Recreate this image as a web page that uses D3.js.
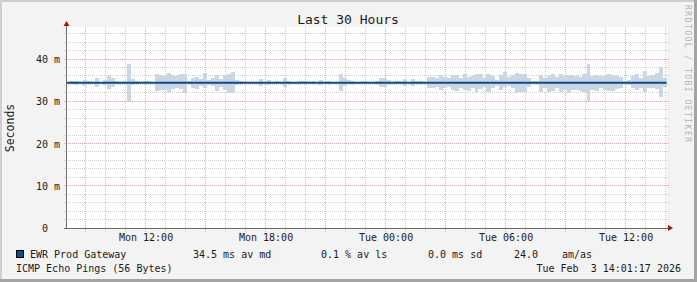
<!DOCTYPE html>
<html>
<head>
<meta charset="utf-8">
<script src="https://cdn.jsdelivr.net/npm/d3@7"></script>
<style>
  body { margin: 0; background: #fff; }
  svg text { font-family: "DejaVu Sans Mono", monospace; fill: #1a1a1a; white-space: pre; }
</style>
</head>
<body>
<div id="chart"></div>
<script>
// graph window: 30 hours ending at the stamp shown in the footer
var endTime = new Date(2026, 1, 3, 14, 1, 17);
var spanHours = 30;
var bucketMinutes = 12;

// smoke band per 12-minute bucket (ms), null = no spread
var smokeHi = [
  null,34.9,34.9,null,35.1,34.9,null,35.6,null,35.1,
  36.1,35.6,34.9,null,35.0,38.9,35.4,34.9,null,34.8,
  34.8,null,36.6,36.3,36.1,36.8,36.3,36.1,36.6,36.6,
  34.9,35.6,35.8,35.4,36.8,35.1,35.6,36.3,35.4,36.3,
  36.6,37.0,35.1,34.9,null,null,null,null,35.4,null,
  35.1,null,34.8,null,35.6,35.0,null,null,34.8,34.8,
  null,34.8,null,35.1,null,34.9,null,null,36.6,35.6,
  35.1,34.9,null,null,34.8,null,null,35.0,35.6,35.6,
  35.1,null,34.9,34.8,35.4,null,35.4,34.8,34.9,null,
  35.8,35.8,35.6,36.3,35.8,35.6,36.3,36.3,35.6,36.6,
  35.8,36.1,36.6,36.6,35.6,36.6,36.1,35.1,36.3,37.0,
  35.8,36.3,36.8,36.6,36.6,35.6,34.9,34.9,36.3,35.6,
  36.1,36.6,35.8,36.6,36.1,36.3,36.3,36.1,35.8,36.6,
  38.9,36.1,36.3,36.1,36.1,36.6,36.3,36.1,35.8,35.0,
  35.1,36.1,36.6,35.6,37.3,36.1,36.3,36.8,38.2,35.6
];
var smokeLo = [
  null,34.3,34.0,null,33.7,34.2,null,33.5,null,33.9,
  33.0,33.5,34.3,null,34.1,30.1,33.9,34.3,null,34.4,
  34.4,null,32.5,32.8,32.8,32.3,33.0,33.2,33.0,32.0,
  34.3,33.2,33.0,33.7,33.2,33.9,33.7,32.5,33.5,32.8,
  32.0,32.0,33.9,34.3,null,null,null,null,33.7,null,
  33.9,null,34.4,null,33.5,34.1,null,null,34.4,34.4,
  null,34.4,null,33.9,null,34.3,null,null,32.5,33.7,
  34.2,34.3,null,null,34.4,null,null,34.2,33.5,33.5,
  33.9,null,34.3,34.4,33.7,null,33.7,34.4,34.3,null,
  33.2,33.2,33.5,32.8,33.2,33.5,32.8,32.5,33.2,32.8,
  32.5,33.2,32.3,33.0,33.5,32.3,33.2,33.7,32.8,33.5,
  33.7,33.2,32.0,32.3,32.3,33.5,34.3,34.2,32.3,33.2,
  32.3,32.5,33.2,32.3,32.8,32.0,32.8,32.8,32.5,32.3,
  30.1,32.8,32.5,33.2,32.8,32.5,32.5,33.0,33.2,34.1,
  33.9,33.2,32.8,33.2,32.3,33.2,33.2,33.0,31.1,33.5
];

// median rtt, one point per hour (ms)
var medianMs = [
  34.5,34.5,34.5,34.5,34.5,34.5,34.5,34.5,34.5,34.5,
  34.5,34.5,34.5,34.5,34.5,34.5,34.5,34.5,34.5,34.5,
  34.5,34.5,34.5,34.5,34.5,34.5,34.5,34.5,34.5,34.5,
  34.5
];

var yTicks = [0, 10, 20, 30, 40];
var yTickLabels = ["0", "10 m", "20 m", "30 m", "40 m"];
var legendCols = ["EWR Prod Gateway", "34.5 ms av md", "0.1 % av ls", "0.0 ms sd", "24.0", "am/as"];
var footerLeft = "ICMP Echo Pings (56 Bytes)";
var footerRight = "Tue Feb  3 14:01:17 2026";

var W = 697, H = 282;
var plot = {left: 66.5, right: 666.5, top: 27, bottom: 228.5};
var smokeColor = "#cad6e3", lineColor = "#0d4b8b";

var svg = d3.select("#chart").append("svg")
    .attr("width", W)
    .attr("height", H);

// background + 3d border
svg.append("rect").attr("width", W).attr("height", H).attr("fill", "#f3f3f3");
svg.append("path").attr("d", "M0,1H" + W + "M1,0V" + H).attr("stroke", "#cfcfcf").attr("stroke-width", 2);
svg.append("path").attr("d", "M0," + (H - 1.5) + "H" + W + "M" + (W - 1.5) + ",0V" + H)
    .attr("stroke", "#a3a3a3").attr("stroke-width", 3);

svg.append("rect")
    .attr("x", plot.left).attr("y", plot.top)
    .attr("width", plot.right - plot.left).attr("height", plot.bottom - plot.top)
    .attr("fill", "#fff");

var startTime = d3.timeHour.offset(endTime, -spanHours);
var x = d3.scaleTime().domain([startTime, endTime]).range([plot.left, plot.right]);
var y = d3.scaleLinear().domain([0, 47.7]).range([plot.bottom, plot.top]);

// grid: minor every hour / 2 ms, major every 3 hours / 10 ms
var hours = d3.timeHour.range(startTime, endTime);
var gridG = svg.append("g").attr("stroke-dasharray", "1,1").attr("shape-rendering", "crispEdges");
hours.forEach(function (t) {
  var major = t.getHours() % 3 === 0;
  var px = Math.round(x(t)) - 0.5;
  gridG.append("line")
      .attr("x1", px).attr("x2", px)
      .attr("y1", plot.top).attr("y2", plot.bottom + 3)
      .attr("stroke", major ? "#eba3a3" : "#cfcfcf");
});
d3.range(2, 48, 2).forEach(function (v) {
  var major = v % 10 === 0;
  var py = Math.round(y(v)) - 0.5;
  gridG.append("line")
      .attr("x1", plot.left - 3).attr("x2", plot.right + 2)
      .attr("y1", py).attr("y2", py)
      .attr("stroke", major ? "#eba3a3" : "#cfcfcf");
});

// smoke
var buckets = smokeHi.map(function (hi, i) {
  return {t: d3.timeMinute.offset(startTime, i * bucketMinutes), hi: hi, lo: smokeLo[i]};
}).filter(function (d) { return d.hi != null; });

svg.append("g").attr("shape-rendering", "crispEdges")
  .selectAll("rect").data(buckets).join("rect")
    .attr("x", function (d) { return Math.round(x(d.t)); })
    .attr("width", function (d) { return Math.round(x(d3.timeMinute.offset(d.t, bucketMinutes))) - Math.round(x(d.t)); })
    .attr("y", function (d) { return Math.round(y(d.hi)); })
    .attr("height", function (d) { return Math.max(1, Math.round(y(d.lo)) - Math.round(y(d.hi))); })
    .attr("fill", smokeColor);

// median line
var medPts = medianMs.map(function (v, i) { return {t: d3.timeHour.offset(startTime, i), v: v}; });
svg.append("path")
    .datum(medPts)
    .attr("d", d3.line().x(function (d) { return x(d.t); }).y(function (d) { return y(d.v); }))
    .attr("fill", "none")
    .attr("stroke", lineColor)
    .attr("stroke-width", 2);

// axes
svg.append("path")
    .attr("d", "M" + plot.left + "," + (plot.bottom) + "V" + (plot.top - 1) +
               "M" + (plot.left - 3) + "," + plot.bottom + "H" + (plot.right + 4))
    .attr("stroke", "#6a6a6a").attr("fill", "none").attr("shape-rendering", "crispEdges");
svg.append("path")
    .attr("d", "M63.5,26L69.5,26L66.5,21Z M668,225L668,231L673,228Z")
    .attr("fill", "#9b1b1b");

// y labels
svg.append("g").selectAll("text").data(yTicks).join("text")
    .attr("x", function (d, i) { return d === 0 ? 48 : 60; })
    .attr("y", function (d) { return y(d) + 3.5; })
    .attr("text-anchor", "end")
    .attr("font-size", 10)
    .text(function (d, i) { return yTickLabels[i]; });

// x labels every 6 hours
var fmt = d3.timeFormat("%a %H:%M");
var labelHours = hours.filter(function (t) { return t.getHours() % 6 === 0; });
svg.append("g").selectAll("text").data(labelHours).join("text")
    .attr("x", function (d) { return x(d); })
    .attr("y", 241)
    .attr("text-anchor", "middle")
    .attr("font-size", 10)
    .text(function (d) { return fmt(d); });

// titles
svg.append("text").attr("x", 348).attr("y", 23.5).attr("text-anchor", "middle")
    .attr("font-size", 13).text("Last 30 Hours");
svg.append("text").attr("transform", "translate(14,128) rotate(-90)")
    .attr("text-anchor", "middle").attr("font-size", 11.5).text("Seconds");
svg.append("text").attr("transform", "translate(684.5,5) rotate(90)")
    .attr("font-size", 8).attr("textLength", 137).attr("lengthAdjust", "spacing")
    .style("fill", "#b4b4b4").text("RRDTOOL / TOBI OETIKER");

// legend
svg.append("rect").attr("x", 16.5).attr("y", 250.5).attr("width", 7).attr("height", 7)
    .attr("fill", lineColor).attr("stroke", "#000").attr("stroke-width", 1);
var legendX = [30, 193, 321, 428, 514, 562];
svg.append("g").selectAll("text").data(legendCols).join("text")
    .attr("x", function (d, i) { return legendX[i]; })
    .attr("y", 258)
    .attr("font-size", 10)
    .text(function (d) { return d; });
svg.append("text").attr("x", 16).attr("y", 272).attr("font-size", 10).text(footerLeft);
svg.append("text").attr("x", 681).attr("y", 272).attr("text-anchor", "end")
    .attr("font-size", 10).text(footerRight);
</script>
</body>
</html>
